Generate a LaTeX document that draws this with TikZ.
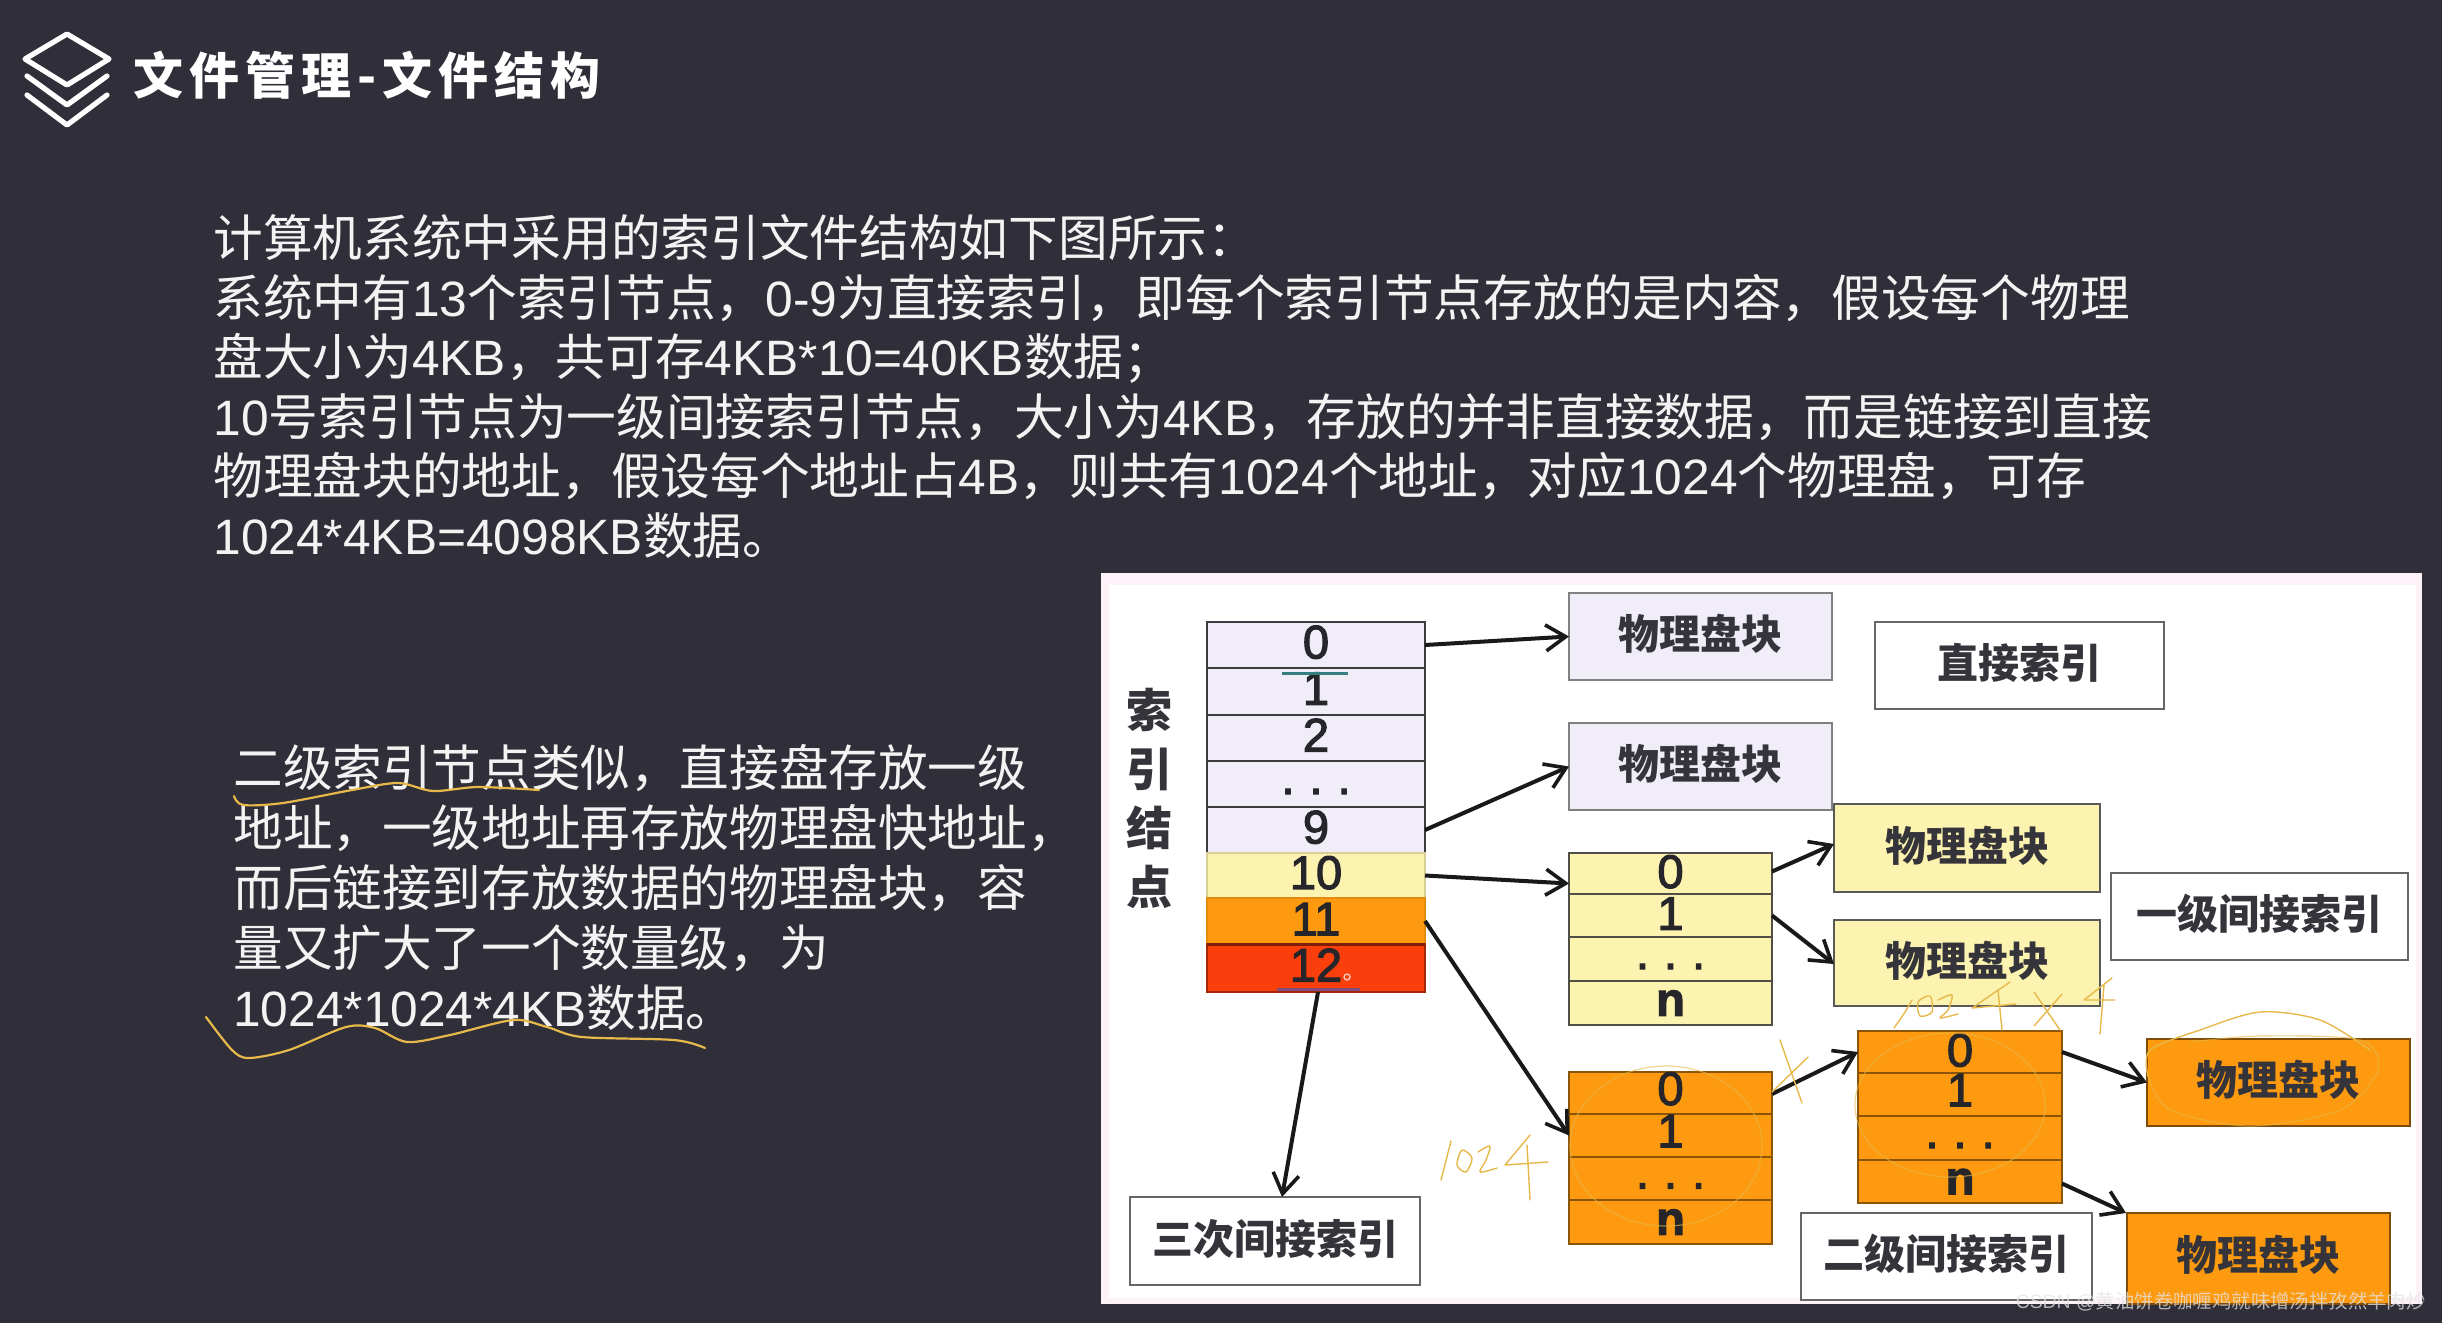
\documentclass[tikz,border=0pt]{standalone}
\usepackage{fontspec}
\usetikzlibrary{arrows.meta}
\setmainfont{Noto Sans CJK SC}
\newfontfamily\cjkf{Noto Sans CJK SC}
\newfontfamily\latf{Liberation Sans}
\newfontfamily\numf[FakeBold=2.5]{Liberation Sans}
\newcommand{\LT}[1]{{\latf #1}}
\definecolor{bgc}{HTML}{2F2E39}
\definecolor{lav}{HTML}{F0ECF8}
\definecolor{yel}{HTML}{FDF3B0}
\definecolor{org}{HTML}{FD9A10}
\definecolor{redc}{HTML}{FA3E0C}
\definecolor{inkc}{HTML}{26262A}
\definecolor{blkc}{HTML}{34343A}
\definecolor{hwc}{HTML}{E6B94A}
\tikzset{
  cellbase/.style={inner sep=0pt,outer sep=0pt,text=inkc,line width=1.4pt},
  numfont/.style={font=\fontsize{23.5pt}{24pt}\selectfont\numf},
  lavrow/.style={cellbase,numfont,fill=lav,draw=#1},
  lavrow/.default={inkc!90},
  yelrow/.style={cellbase,numfont,fill=yel,draw=inkc!80!yel},
  orgrow/.style={cellbase,numfont,fill=org,draw=#1},
  orgrow/.default={black!45!org},
  redrow/.style={cellbase,numfont,fill=redc,draw=black!35!redc},
  blockfont/.style={font=\fontsize{20.5pt}{24pt}\selectfont\cjkf\bfseries,text=blkc},
  lavblock/.style={cellbase,blockfont,fill=lav,draw=black!50},
  yelblock/.style={cellbase,blockfont,fill=yel,draw=black!65},
  orgblock/.style={cellbase,blockfont,fill=org,draw=black!50!org},
  whiteblock/.style={cellbase,blockfont,fill=white,draw=black!60},
  conn/.style={draw=black!90,line width=2pt,-{Straight Barb[length=10pt,width=13pt,line width=1.8pt]}},
  hw/.style={draw=hwc,line width=0.7pt,line cap=round,line join=round},
  hwf/.style={draw=hwc,draw opacity=0.6,line width=0.6pt,line cap=round,line join=round},
  hwb/.style={draw=hwc,line width=1.1pt,line cap=round,line join=round},
  dotrow/.style={text height=0pt,text depth=0pt},
}
\newcommand{\cell}[7]{\node[#6,minimum width={((#4)-(#2))*0.5pt},minimum height={((#5)-(#3))*0.5pt}] (#1) at ({((#2)+(#4))/2},{((#3)+(#5))/2}) {#7};}
\newcommand{\dts}{\raisebox{-5pt}{.\hspace{7.5pt}.\hspace{7.5pt}.}}
\newcommand{\blk}[1]{\raisebox{4.5pt}{#1}}
\newcommand{\rb}[2]{\raisebox{#1pt}{#2}}
\begin{document}
\begin{tikzpicture}[x=0.5pt,y=-0.5pt]
\useasboundingbox (0,0) rectangle (2442,1323);
\fill[bgc] (0,0) rectangle (2442,1323);

% title icon
\draw[white,line width=2.6pt,line join=round] (67,34) -- (109,59) -- (67,85) -- (25,59) -- cycle;
\draw[white,line width=2.6pt,line join=round,line cap=round] (27,76) -- (67,105) -- (107,76);
\draw[white,line width=2.6pt,line join=round,line cap=round] (27,95) -- (67,125) -- (107,95);
\node[anchor=west,inner sep=0pt,text=white,font=\fontsize{25pt}{30pt}\selectfont\bfseries] (title) at (133,75) {\addfontfeature{LetterSpace=12}文件管理-文件结构};

% paragraphs
\node[anchor=north west,inner sep=0pt,text=white!94!bgc,align=left,font=\fontsize{24.85pt}{29.75pt}\selectfont] (para1) at (213,214) {%
计算机系统中采用的索引文件结构如下图所示：\\
系统中有\LT{13}个索引节点，\LT{0-9}为直接索引，即每个索引节点存放的是内容，假设每个物理\\
盘大小为\LT{4KB}，共可存\LT{4KB*10=40KB}数据；\\
\LT{10}号索引节点为一级间接索引节点，大小为\LT{4KB}，存放的并非直接数据，而是链接到直接\\
物理盘块的地址，假设每个地址占\LT{4B}，则共有\LT{1024}个地址，对应\LT{1024}个物理盘，可存\\
\LT{1024*4KB=4098KB}数据。};
\node[anchor=north west,inner sep=0pt,text=white!94!bgc,align=left,font=\fontsize{24.8pt}{30pt}\selectfont] (para2) at (233,744) {%
二级索引节点类似，直接盘存放一级\\
地址，一级地址再存放物理盘快地址，\\
而后链接到存放数据的物理盘块，容\\
量又扩大了一个数量级，为\\
\LT{1024*1024*4KB}数据。};
\draw[hwb] plot[smooth] coordinates {(234,796) (243,805) (283,803) (352,790) (398,783) (433,791) (478,787) (539,790)};
\draw[hwb] plot[smooth] coordinates {(206,1017) (232,1050) (249,1058) (289,1050) (346,1027) (375,1028) (407,1042) (450,1035) (513,1020) (547,1027) (582,1037) (674,1040) (705,1048)};

% panel
\fill[white!95!magenta] (1101,573) rectangle (2422,1304);
\fill[white] (1109,585) rectangle (2416,1298);

% index table
\cell{r0}{1207}{622}{1425}{668}{lavrow}{\rb{3}{0}}
\cell{r1}{1207}{668}{1425}{715}{lavrow}{\rb{3}{1}}
\cell{r2}{1207}{715}{1425}{761}{lavrow}{\rb{3}{2}}
\cell{r3}{1207}{761}{1425}{807}{lavrow,dotrow}{\dts}
\cell{r9}{1207}{807}{1425}{853}{lavrow}{\rb{3}{9}}
\cell{r10}{1207}{853}{1425}{898}{cellbase,numfont,fill=yel,draw=yel!85!black}{\rb{3}{10}}
\cell{r11}{1207}{898}{1425}{944}{orgrow={org!90!black}}{\rb{2}{11}}
\cell{r12}{1207}{944}{1425}{992}{redrow}{\rb{3}{12}}
\draw[draw=black!50!redc,line width=1.5pt] (r11.south west) -- (r11.south east);
\node[text=blkc,inner sep=0pt,align=center,font=\fontsize{23pt}{29.5pt}\selectfont\cjkf\bfseries] (idxlabel) at (1149,798) {索\\引\\结\\点};

% physical blocks, top
\cell{b1}{1569}{593}{1832}{680}{lavblock}{\blk{物理盘块}}
\cell{b2}{1569}{723}{1832}{810}{lavblock}{\blk{物理盘块}}
\cell{lab0}{1875}{622}{2164}{709}{whiteblock}{\blk{直接索引}}

% level 1 yellow
\cell{y0}{1569}{853}{1772}{894}{yelrow}{\rb{2}{0}}
\cell{y1}{1569}{894}{1772}{937}{yelrow}{\rb{2}{1}}
\cell{y2}{1569}{937}{1772}{981}{yelrow,dotrow}{\dts}
\cell{y3}{1569}{981}{1772}{1025}{yelrow}{\rb{-2}{\textbf{n}}}
\cell{yb1}{1834}{804}{2100}{892}{yelblock}{\blk{物理盘块}}
\cell{yb2}{1834}{920}{2100}{1006}{yelblock}{\blk{物理盘块}}
\cell{lab1}{2111}{873}{2408}{960}{whiteblock}{\blk{一级间接索引}}

% level 2 orange, first
\cell{o0}{1569}{1072}{1772}{1114}{orgrow}{\rb{4.5}{0}}
\cell{o1}{1569}{1114}{1772}{1157}{orgrow}{\rb{4.5}{1}}
\cell{o2}{1569}{1157}{1772}{1200}{orgrow,dotrow}{\dts}
\cell{o3}{1569}{1200}{1772}{1244}{orgrow}{\rb{-2}{\textbf{n}}}

% level 2 orange, second
\cell{p0}{1858}{1031}{2062}{1073}{orgrow}{\rb{2}{0}}
\cell{p1}{1858}{1073}{2062}{1116}{orgrow}{\rb{4.5}{1}}
\cell{p2}{1858}{1116}{2062}{1160}{orgrow,dotrow}{\dts}
\cell{p3}{1858}{1160}{2062}{1203}{orgrow}{\rb{0}{\textbf{n}}}
\cell{ob1}{2147}{1039}{2410}{1126}{orgblock}{\blk{物理盘块}}
\cell{ob2}{2127}{1213}{2390}{1304}{orgblock}{\blk{\rb{1}{物理盘块}}}
\cell{lab2}{1801}{1213}{2092}{1300}{whiteblock}{\blk{二级间接索引}}
\cell{lab3}{1130}{1197}{1420}{1285}{whiteblock}{\blk{三次间接索引}}

% connectors
\draw[conn] (r0.east) -- (b1.west);
\draw[conn] (r9.east) -- (b2.west);
\draw[conn] (r10.east) -- ([yshift=-5pt]y0.west);
\draw[conn] (r11.east) -- (o1.west);
\draw[conn] ([xshift=1pt]r12.south) -- ([xshift=3.5pt]lab3.north);
\draw[conn] ([yshift=1pt]y0.east) -- ([yshift=2pt]yb1.west);
\draw[conn] (y1.east) -- ([yshift=-0.5pt]yb2.west);
\draw[conn] ([yshift=-0.5pt]o0.east) -- (p0.west);
\draw[conn] (p0.east) -- (ob1.west);
\draw[conn] ([yshift=-1pt]p3.east) -- ([xshift=-0.5pt]ob2.north west);

% annotation marks on the picture
\draw[draw=teal!60!gray,line width=1.5pt] (1282,673) -- (1348,673);
\draw[draw=violet!40!gray,line width=1.5pt] (1277,989) -- (1360,989);
\draw[draw=white!70!redc,line width=0.7pt] (1347,977) circle[radius=3];

% handwriting
\draw[hw] (1441,1180) -- (1451,1141);
\draw[hw] plot[smooth cycle] coordinates {(1462,1150) (1472,1158) (1466,1172) (1457,1165)};
\draw[hw] plot[smooth] coordinates {(1478,1152) (1490,1146) (1486,1160) (1480,1172) (1497,1168)};
\draw[hw] (1530,1135) -- (1505,1165) -- (1548,1162);
\draw[hw] (1527,1145) -- (1530,1200);
\draw[hwf] (1666,1146) ellipse[x radius=96,y radius=80];
\draw[hwf] (1950,1105) ellipse[x radius=95,y radius=72];
\draw[hw] (1780,1040) -- (1802,1103);
\draw[hw] (1808,1057) -- (1772,1092);
\draw[hw] plot[smooth] coordinates {(1894,1028) (1905,1012) (1912,1000)};
\draw[hw] plot[smooth cycle] coordinates {(1918,1002) (1930,996) (1932,1012) (1920,1016)};
\draw[hw] plot[smooth] coordinates {(1938,1000) (1952,995) (1948,1010) (1940,1018) (1958,1014)};
\draw[hw] (2010,982) -- (1972,1008) -- (2016,1004);
\draw[hw] (1998,990) -- (2002,1030);
\draw[hw] (2034,992) -- (2060,1030);
\draw[hw] (2062,994) -- (2034,1026);
\draw[hw] (2112,978) -- (2084,1000) -- (2115,1000);
\draw[hw] (2104,985) -- (2100,1034);
\draw[hw] plot[smooth] coordinates {(2148,1076) (2150,1050) (2200,1030) (2260,1012) (2320,1020) (2370,1050)};
\draw[hwf] plot[smooth] coordinates {(2148,1076) (2170,1110) (2250,1126) (2340,1110) (2378,1070) (2360,1040) (2260,1036) (2190,1042)};

% watermark
\node[anchor=east,inner sep=0pt,text=white!78!gray,opacity=0.75,font=\fontsize{9.7pt}{12pt}\selectfont] (wm) at (2426,1302) {\LT{CSDN @}黄油饼卷咖喱鸡就味增汤拌孜然羊肉炒};
\end{tikzpicture}
\end{document}
